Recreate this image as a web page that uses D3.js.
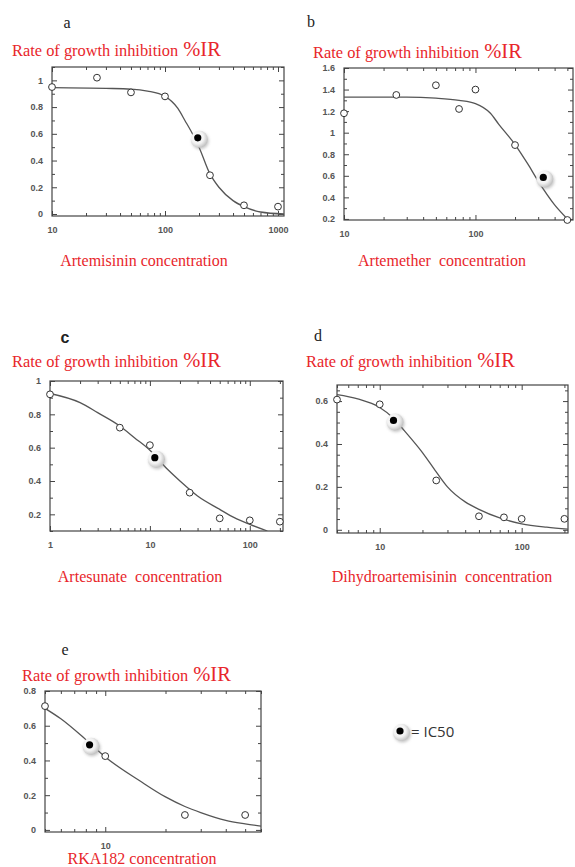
<!DOCTYPE html>
<html>
<head>
<meta charset="utf-8">
<script src="https://cdn.jsdelivr.net/npm/d3@7"></script>
<style>
  body { margin: 0; background: #fff; }
  svg text { font-family: "Liberation Serif", "DejaVu Serif", serif; }
  .red { fill: #e8262b; }
  .tick text { font-family: "Liberation Sans", Arial, sans-serif; font-size: 9px; font-weight: bold; fill: #555; }
  .tick line { stroke: #444; }
</style>
</head>
<body>
<svg id="fig" width="575" height="867"></svg>
<script>
'use strict';

// panel letters and x axis titles
const panelIds = ['a', 'b', 'c', 'd', 'e'];
const drugLabels = ['Artemisinin concentration', 'Artemether  concentration', 'Artesunate  concentration',
  'Dihydroartemisinin  concentration', 'RKA182 concentration'];

// measured points: concentration and rate of growth inhibition
const concA = [10, 25, 50, 100, 250, 500, 1000];
const irA = [0.95, 1.02, 0.91, 0.88, 0.29, 0.065, 0.055];
const concB = [10, 25, 50, 75, 100, 200, 500];
const irB = [1.18, 1.35, 1.44, 1.22, 1.40, 0.885, 0.19];
const concC = [1, 5, 10, 25, 50, 100, 200];
const irC = [0.92, 0.72, 0.615, 0.33, 0.176, 0.164, 0.156];
const concD = [5, 10, 25, 50, 75, 100, 200];
const irD = [0.607, 0.585, 0.23, 0.063, 0.058, 0.051, 0.051];
const concE = [5, 10, 25, 50];
const irE = [0.713, 0.425, 0.086, 0.086];

// fitted curves
const fitConcA = [10, 30, 50, 70, 100, 130, 150, 175, 200, 250, 300, 400, 500, 700, 1130];
const fitIrA = [0.945, 0.94, 0.935, 0.92, 0.88, 0.79, 0.70, 0.60, 0.50, 0.30, 0.20, 0.10, 0.055, 0.015, 0.0];
const fitConcB = [10, 30, 50, 75, 100, 130, 150, 200, 250, 300, 400, 500];
const fitIrB = [1.33, 1.33, 1.32, 1.30, 1.27, 1.18, 1.08, 0.89, 0.71, 0.55, 0.33, 0.2];
const fitConcC = [1, 2, 3, 5, 7, 10, 15, 20, 30, 50, 70, 100, 150];
const fitIrC = [0.925, 0.87, 0.81, 0.73, 0.66, 0.585, 0.47, 0.40, 0.31, 0.23, 0.18, 0.14, 0.1];
const fitConcD = [5, 7, 10, 12.5, 15, 20, 25, 30, 40, 50, 70, 100, 150, 212];
const fitIrD = [0.63, 0.61, 0.57, 0.52, 0.46, 0.36, 0.27, 0.2, 0.13, 0.095, 0.055, 0.028, 0.012, 0.003];
const fitConcE = [5, 6, 8, 10, 15, 20, 25, 30, 40, 50, 60];
const fitIrE = [0.70, 0.64, 0.52, 0.42, 0.28, 0.19, 0.135, 0.10, 0.055, 0.035, 0.022];

// IC50 marker per drug: [concentration, %IR]
const ic50A = [195, 0.57];
const ic50B = [328, 0.585];
const ic50C = [11.2, 0.54];
const ic50D = [12.5, 0.51];
const ic50E = [8.35, 0.49];

// y tick labels per panel
const yTicksA = [0, 0.2, 0.4, 0.6, 0.8, 1];
const yTicksB = [0.2, 0.4, 0.6, 0.8, 1, 1.2, 1.4, 1.6];
const yTicksC = [0.2, 0.4, 0.6, 0.8, 1];
const yTicksD = [0, 0.2, 0.4, 0.6];
const yTicksE = [0, 0.2, 0.4, 0.6, 0.8];

// layout of each panel: box in page pixels, axis domains, minor y step, text positions
const panels = [
  { id: panelIds[0], label: drugLabels[0], conc: concA, ir: irA, fitConc: fitConcA, fitIr: fitIrA, ic50: ic50A, yTicks: yTicksA,
    box: [52, 284, 67, 216], xDom: [10, 1130], yDom: [-0.015, 1.1], yMinor: 0.1,
    letter: [67, 28], title: [12, 56], xlab: [144, 266] },
  { id: panelIds[1], label: drugLabels[1], conc: concB, ir: irB, fitConc: fitConcB, fitIr: fitIrB, ic50: ic50B, yTicks: yTicksB,
    box: [344, 573, 68, 220], xDom: [10, 552], yDom: [0.19, 1.6], yMinor: 0.1,
    letter: [311, 27], title: [313, 58], xlab: [442, 266] },
  { id: panelIds[2], label: drugLabels[2], conc: concC, ir: irC, fitConc: fitConcC, fitIr: fitIrC, ic50: ic50C, yTicks: yTicksC,
    box: [50, 283, 381, 531], xDom: [1, 215], yDom: [0.1, 1.0], yMinor: 0.1,
    letter: [65, 343], title: [12, 367], xlab: [140, 582], letterSans: true },
  { id: panelIds[3], label: drugLabels[3], conc: concD, ir: irD, fitConc: fitConcD, fitIr: fitIrD, ic50: ic50D, yTicks: yTicksD,
    box: [337, 568, 385, 533], xDom: [5, 212], yDom: [-0.015, 0.675], yMinor: 0.05,
    letter: [318, 341], title: [306, 367], xlab: [442, 582] },
  { id: panelIds[4], label: drugLabels[4], conc: concE, ir: irE, fitConc: fitConcE, fitIr: fitIrE, ic50: ic50E, yTicks: yTicksE,
    box: [45, 261, 691, 832], xDom: [5, 60], yDom: [-0.012, 0.8], yMinor: 0.1,
    letter: [65, 655], title: [22, 681], xlab: [142, 864] },
];

const svg = d3.select('#fig');

// gradient and blur for the shiny IC50 bead
const defs = svg.append('defs');
const grad = defs.append('radialGradient').attr('id', 'bead').attr('cx', '40%').attr('cy', '40%').attr('r', '60%');
grad.append('stop').attr('offset', '0%').attr('stop-color', '#ffffff');
grad.append('stop').attr('offset', '60%').attr('stop-color', '#f2f2f2');
grad.append('stop').attr('offset', '100%').attr('stop-color', '#c4c4c4');
defs.append('filter').attr('id', 'soft').attr('x', '-50%').attr('y', '-50%').attr('width', '200%').attr('height', '200%')
  .append('feGaussianBlur').attr('stdDeviation', 1.6);

// drawBead: IC50 marker (black dot in a white bead with soft shadow)
const drawBead = function (g, cx, cy) {
  g.append('circle').attr('cx', cx + 2.5).attr('cy', cy + 3).attr('r', 8.5)
    .attr('fill', '#8a8a8a').attr('opacity', 0.5).attr('filter', 'url(#soft)');
  g.append('circle').attr('cx', cx + 1.5).attr('cy', cy + 1.5).attr('r', 8.5).attr('fill', 'url(#bead)');
  g.append('circle').attr('cx', cx).attr('cy', cy).attr('r', 3.6).attr('fill', '#000');
};

panels.forEach((p) => {
  const [x0, x1, y0, y1] = p.box;
  const x = d3.scaleLog().domain(p.xDom).range([x0, x1]);
  const y = d3.scaleLinear().domain(p.yDom).range([y1, y0]);
  const g = svg.append('g').attr('class', 'panel');

  // log ticks: decades are major, the rest minor
  const allX = x.ticks();
  const isDecade = (v) => Math.abs(Math.log10(v) - Math.round(Math.log10(v))) < 1e-9;
  const xMajor = allX.filter(isDecade);
  const xMinor = allX.filter((v) => !isDecade(v));
  const yMinor = d3.range(Math.ceil(p.yDom[0] / p.yMinor), Math.floor(p.yDom[1] / p.yMinor + 1e-9) + 1)
    .map((k) => +(k * p.yMinor).toFixed(3))
    .filter((v) => !p.yTicks.some((t) => Math.abs(t - v) < 1e-9));

  const noDomain = (sel) => sel.select('.domain').remove();
  // bottom and top
  g.append('g').attr('transform', `translate(0,${y1})`)
    .call(d3.axisBottom(x).tickValues(xMajor).tickSize(-5).tickPadding(11).tickFormat(d3.format('d'))).call(noDomain);
  g.append('g').attr('transform', `translate(0,${y1})`)
    .call(d3.axisBottom(x).tickValues(xMinor).tickSize(-3).tickFormat('')).call(noDomain);
  g.append('g').attr('transform', `translate(0,${y0})`)
    .call(d3.axisTop(x).tickValues(xMajor).tickSize(-5).tickFormat('')).call(noDomain);
  g.append('g').attr('transform', `translate(0,${y0})`)
    .call(d3.axisTop(x).tickValues(xMinor).tickSize(-3).tickFormat('')).call(noDomain);
  // left and right
  g.append('g').attr('transform', `translate(${x0},0)`)
    .call(d3.axisLeft(y).tickValues(p.yTicks).tickSize(-5).tickPadding(9).tickFormat(d3.format('~g'))).call(noDomain);
  g.append('g').attr('transform', `translate(${x0},0)`)
    .call(d3.axisLeft(y).tickValues(yMinor).tickSize(-3).tickFormat('')).call(noDomain);
  g.append('g').attr('transform', `translate(${x1},0)`)
    .call(d3.axisRight(y).tickValues(p.yTicks).tickSize(-5).tickFormat('')).call(noDomain);
  g.append('g').attr('transform', `translate(${x1},0)`)
    .call(d3.axisRight(y).tickValues(yMinor).tickSize(-3).tickFormat('')).call(noDomain);

  // frame
  g.append('rect').attr('x', x0).attr('y', y0).attr('width', x1 - x0).attr('height', y1 - y0)
    .attr('fill', 'none').attr('stroke', '#444').attr('stroke-width', 1.2);

  // fitted curve, clipped to the frame
  defs.append('clipPath').attr('id', `clip_${p.id}`)
    .append('rect').attr('x', x0).attr('y', y0).attr('width', x1 - x0).attr('height', y1 - y0);
  const fit = p.fitConc.map((c, k) => [c, p.fitIr[k]]);
  g.append('path').datum(fit)
    .attr('clip-path', `url(#clip_${p.id})`)
    .attr('d', d3.line().x((d) => x(d[0])).y((d) => y(d[1])).curve(d3.curveMonotoneX))
    .attr('fill', 'none').attr('stroke', '#555').attr('stroke-width', 1.3);

  // measured points as open circles
  const pts = p.conc.map((c, k) => [c, p.ir[k]]);
  g.selectAll('circle.pt').data(pts).join('circle').attr('class', 'pt')
    .attr('cx', (d) => x(d[0])).attr('cy', (d) => y(d[1])).attr('r', 3.4)
    .attr('fill', '#fff').attr('stroke', '#333').attr('stroke-width', 1);

  drawBead(g, x(p.ic50[0]), y(p.ic50[1]));

  // texts
  g.append('text').attr('x', p.letter[0]).attr('y', p.letter[1]).attr('text-anchor', 'middle')
    .style('font-size', '16px').style('fill', '#222')
    .style('font-family', p.letterSans ? '"Liberation Sans", Arial, sans-serif' : null)
    .style('font-weight', p.letterSans ? 'bold' : null)
    .text(p.id);
  const t = g.append('text').attr('class', 'red').attr('x', p.title[0]).attr('y', p.title[1]);
  t.append('tspan').style('font-size', '16.4px').text('Rate of growth inhibition ');
  t.append('tspan').attr('dx', 1).style('font-size', '20.5px').text('%IR');
  g.append('text').attr('class', 'red').attr('x', p.xlab[0]).attr('y', p.xlab[1])
    .attr('text-anchor', 'middle').style('font-size', '16px').style('white-space', 'pre')
    .attr('xml:space', 'preserve').text(p.label);
});

// legend for the IC50 marker
const leg = svg.append('g');
drawBead(leg, 400, 731);
leg.append('text').attr('x', 411).attr('y', 737)
  .style('font-family', '"Open Sans", "Liberation Sans", sans-serif').style('font-size', '15px').style('fill', '#333')
  .text('= IC50');
</script>
</body>
</html>
